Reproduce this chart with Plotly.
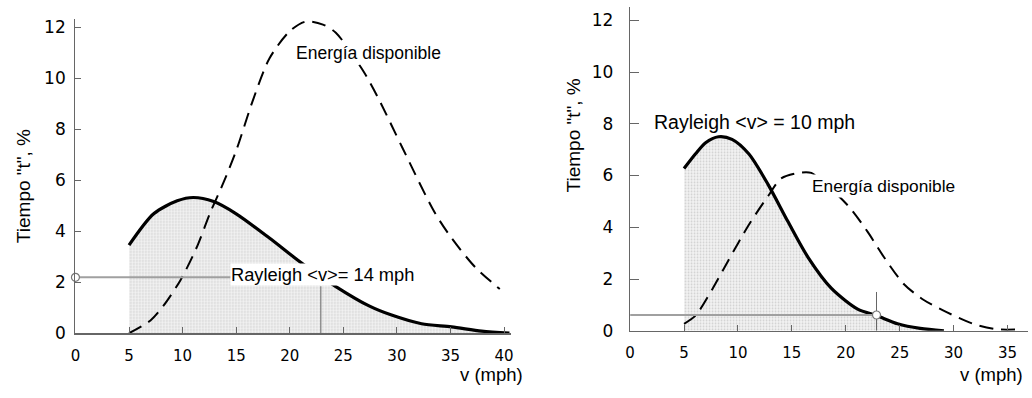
import plotly.graph_objects as go

# ---------------- data ----------------
# Left panel: Rayleigh <v> = 14 mph
left_ray_x = [5, 7.3, 9.5, 11, 12.9, 15, 18.1, 21.2, 24.3, 27.4, 29.5, 32.3, 35.1, 37.9, 40.5]
left_ray_y = [3.45, 4.68, 5.19, 5.32, 5.16, 4.68, 3.73, 2.72, 1.83, 1.07, 0.71, 0.37, 0.25, 0.08, 0.0]
left_en_x = [5, 7.0, 8.2, 9.8, 11.3, 12.6, 13.8, 15.0, 16.6, 18.1, 20.0, 21.5, 23.1, 24.3,
             26.8, 28.3, 30.5, 33.5, 35.1, 37.3, 39.6]
left_en_y = [0, 0.50, 1.07, 2.08, 3.35, 4.75, 5.89, 7.16, 9.18, 10.77, 11.84, 12.22, 12.10, 11.78,
             10.32, 9.18, 7.28, 4.75, 3.73, 2.59, 1.73]

# Right panel: Rayleigh <v> = 10 mph
right_ray_x = [5.0, 6.07, 7.0, 8.2, 9.45, 11.0, 12.8, 14.65, 16.5, 18.65, 21.1, 22.85, 24.8, 26.9, 29.1]
right_ray_y = [6.27, 6.84, 7.27, 7.5, 7.4, 6.84, 5.65, 4.21, 2.84, 1.65, 0.84, 0.59, 0.27, 0.09, 0.0]
right_en_x = [5.0, 6.07, 7.6, 9.1, 11.0, 12.8, 14.05, 15.9, 16.8, 20.2, 22.0, 23.55, 25.4,
              27.2, 29.4, 31.8, 34.0, 35.8]
right_en_y = [0.27, 0.59, 1.59, 2.71, 4.09, 5.21, 5.9, 6.12, 6.1, 4.84, 3.84, 2.84, 1.8,
              1.2, 0.71, 0.27, 0.06, 0.05]

# guide lines
left_guide_h_x = [0, 14.5]
left_guide_h_y = [2.19, 2.19]
left_guide_v_x = [22.9, 22.9]
left_guide_v_y = [0, 1.84]
right_guide_h_x = [0, 22.85]
right_guide_h_y = [0.61, 0.61]
right_guide_v_x = [22.85, 22.85]
right_guide_v_y = [0, 1.5]

x_ticks_left = [0, 5, 10, 15, 20, 25, 30, 35, 40]
x_ticks_right = [0, 5, 10, 15, 20, 25, 30, 35]
y_ticks = [0, 2, 4, 6, 8, 10, 12]

label_ray_left = "Rayleigh &lt;v&gt;= 14 mph"
label_ray_right = "Rayleigh &lt;v&gt; = 10 mph"
label_energy = "Energía disponible"
y_title = "Tiempo \"t\", %"
x_title = "v (mph)"

# ---------------- figure ----------------
W, H = 1032, 398
fig = go.Figure()

fill_pattern = dict(shape=".", fgcolor="#a8a8a8", bgcolor="#f4f4f4", size=3, solidity=0.28)
GUIDE = "#a0a0a0"

def add_panel(xa, ya, rx, ry, ex, ey, ghx, ghy, gvx, gvy, circ_x, circ_y):
    fig.add_trace(go.Scatter(x=rx, y=ry, mode="lines", fill="tozeroy", fillpattern=fill_pattern,
                             line=dict(color="black", width=3.2, shape="spline", smoothing=0.8),
                             xaxis=xa, yaxis=ya, showlegend=False, hoverinfo="skip"))
    fig.add_trace(go.Scatter(x=ex, y=ey, mode="lines",
                             line=dict(color="black", width=2, dash="14px,8px", shape="spline", smoothing=0.8),
                             xaxis=xa, yaxis=ya, showlegend=False, hoverinfo="skip"))
    fig.add_trace(go.Scatter(x=ghx, y=ghy, mode="lines", line=dict(color=GUIDE, width=2),
                             xaxis=xa, yaxis=ya, showlegend=False, hoverinfo="skip"))
    fig.add_trace(go.Scatter(x=gvx, y=gvy, mode="lines", line=dict(color="#666", width=1),
                             xaxis=xa, yaxis=ya, showlegend=False, hoverinfo="skip"))
    fig.add_trace(go.Scatter(x=[circ_x], y=[circ_y], mode="markers", cliponaxis=False,
                             marker=dict(size=8, color="white", line=dict(color="#777", width=1.2)),
                             xaxis=xa, yaxis=ya, showlegend=False, hoverinfo="skip"))

add_panel("x", "y", left_ray_x, left_ray_y, left_en_x, left_en_y,
          left_guide_h_x, left_guide_h_y, left_guide_v_x, left_guide_v_y,
          left_guide_h_x[0], left_guide_h_y[0])
add_panel("x2", "y2", right_ray_x, right_ray_y, right_en_x, right_en_y,
          right_guide_h_x, right_guide_h_y, right_guide_v_x, right_guide_v_y,
          right_guide_h_x[1], right_guide_h_y[1])

AX = "#666666"
tickfont_x = dict(family="DejaVu Sans", size=15, color="black")
tickfont_y = dict(family="DejaVu Sans", size=17, color="black")

def xaxis(dom, rng, ticks, anchor):
    return dict(domain=dom, range=rng, anchor=anchor, tickvals=ticks, ticks="inside", ticklen=6,
                tickcolor=AX, tickwidth=1, showline=True, linecolor=AX, linewidth=1.3,
                showgrid=False, zeroline=False, tickfont=tickfont_x, ticklabelstandoff=8)

def yaxis(dom, rng, anchor, tlen, standoff):
    return dict(domain=dom, range=rng, anchor=anchor, tickvals=y_ticks, ticks="inside", ticklen=tlen,
                tickcolor=AX, tickwidth=1, showline=True, linecolor=AX, linewidth=1.3,
                showgrid=False, zeroline=False, tickfont=tickfont_y, ticklabelstandoff=standoff)

fig.update_layout(
    width=W, height=H, margin=dict(l=0, r=0, t=0, b=0),
    paper_bgcolor="white", plot_bgcolor="white",
    xaxis=xaxis([71 / W, 510 / W], [0, 40.65], x_ticks_left, "y"),
    yaxis=yaxis([1 - 341.5 / H, 1 - 18 / H], [0, 12.3], "x", 6, 5),
    xaxis2=xaxis([630 / W, 1031 / W], [0, 36.9], x_ticks_right, "y2"),
    yaxis2=yaxis([1 - 339 / H, 1 - 5 / H], [0, 12.52], "x2", 9, 12),
)

def ann_font(size):
    return dict(family="Liberation Sans", size=size, color="black")

fig.add_annotation(x=23.06, y=2.30, xref="x", yref="y", text=label_ray_left, showarrow=False,
                   font=ann_font(18.3), bgcolor="white", borderpad=0)
fig.add_annotation(x=27.37, y=10.97, xref="x", yref="y", text=label_energy, showarrow=False,
                   font=ann_font(17.5), bgcolor="white", borderpad=1)
fig.add_annotation(x=11.57, y=8.06, xref="x2", yref="y2", text=label_ray_right, showarrow=False,
                   font=ann_font(19.5), bgcolor="white", borderpad=0)
fig.add_annotation(x=23.5, y=5.59, xref="x2", yref="y2", text=label_energy, showarrow=False,
                   font=ann_font(17.3), bgcolor="white", borderpad=1)

# axis titles
fig.add_annotation(x=18 / W, y=1 - 190 / H, xref="paper", yref="paper", text=y_title, textangle=-90,
                   xanchor="center", yanchor="middle", showarrow=False, font=ann_font(19))
fig.add_annotation(x=573 / W, y=1 - 138 / H, xref="paper", yref="paper", text=y_title, textangle=-90,
                   xanchor="center", yanchor="middle", showarrow=False, font=ann_font(19))
fig.add_annotation(x=524 / W, y=1 - 384 / H, xref="paper", yref="paper", text=x_title,
                   xanchor="right", yanchor="middle", showarrow=False, font=ann_font(18.5))
fig.add_annotation(x=1028 / W, y=1 - 384 / H, xref="paper", yref="paper", text=x_title,
                   xanchor="right", yanchor="middle", showarrow=False, font=ann_font(18.5))

fig.write_html("out.html", config={"displayModeBar": False, "staticPlot": True},
               post_script="document.body.style.margin='0';document.body.style.overflow='hidden';")
